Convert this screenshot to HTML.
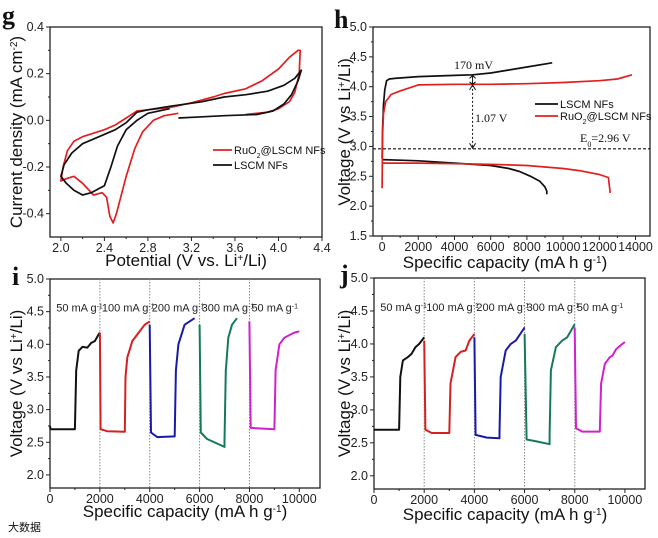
<!DOCTYPE html>
<html><head><meta charset="utf-8"><style>
html,body{margin:0;padding:0;background:#fff;}
svg{display:block;font-family:"Liberation Sans",Arial,sans-serif;}
.tk{font-size:12.5px;fill:#222;}
.ti{font-size:17px;fill:#111;}
.pl{font-family:"Liberation Serif",serif;font-weight:bold;font-size:26px;fill:#111;}
.an{font-family:"Liberation Serif",serif;font-size:12px;fill:#111;}
.lg{font-size:11px;fill:#111;}
</style></head><body>
<svg id="fig" width="658" height="538" viewBox="0 0 658 538" xmlns="http://www.w3.org/2000/svg"></svg>
<script>
// ---- Panel g data (CV) ----
const gRedE = [3.08,2.95,2.85,2.75,2.68,2.6,2.55,2.51,2.48,2.45,2.42,2.38,2.3,2.2,2.12,2.05,2.0,2.02,2.06,2.12,2.2,2.3,2.4,2.5,2.6,2.7,2.8,3.0,3.2,3.4,3.5,3.7,3.85,4.0,4.1,4.18,4.2,4.19,4.15,4.1,4.0,3.9,3.7];
const gRedI = [0.03,0.02,0.0,-0.05,-0.12,-0.24,-0.33,-0.40,-0.44,-0.41,-0.33,-0.31,-0.32,-0.27,-0.24,-0.25,-0.26,-0.2,-0.13,-0.09,-0.07,-0.055,-0.04,-0.02,0.01,0.04,0.045,0.055,0.075,0.10,0.115,0.135,0.17,0.22,0.27,0.30,0.30,0.2,0.12,0.08,0.05,0.035,0.025];
const gBlkE = [3.08,3.3,3.5,3.8,3.95,4.05,4.12,4.18,4.21,4.15,4.05,3.9,3.7,3.5,3.3,3.0,2.8,2.7,2.6,2.5,2.35,2.2,2.1,2.03,2.0,2.05,2.12,2.2,2.28,2.36,2.4,2.46,2.52,2.6,2.7,2.8,3.0];
const gBlkI = [0.01,0.015,0.02,0.025,0.04,0.07,0.11,0.17,0.215,0.18,0.15,0.125,0.11,0.10,0.08,0.06,0.045,0.035,-0.01,-0.04,-0.07,-0.10,-0.14,-0.19,-0.24,-0.27,-0.30,-0.32,-0.31,-0.29,-0.28,-0.2,-0.11,-0.04,0.0,0.03,0.05];
const gXTicks = ["2.0","2.4","2.8","3.2","3.6","4.0","4.4"];
const gYTicks = ["-0.4","-0.2","0.0","0.2","0.4"];
// ---- Panel h data ----
const hBlkChCap = [0,30,80,150,250,400,700,2000,4000,5000,6000,7000,8000,9400];
const hBlkChV   = [2.8,3.3,3.7,3.95,4.1,4.13,4.14,4.17,4.19,4.2,4.23,4.28,4.33,4.4];
const hBlkDisCap= [0,1000,2000,4000,6000,7000,7600,8200,8700,9000,9100,9100];
const hBlkDisV  = [2.78,2.77,2.76,2.72,2.68,2.63,2.58,2.5,2.42,2.32,2.25,2.2];
const hRedChCap = [0,30,80,200,500,1000,2000,4000,6000,8000,10000,12000,13000,13800];
const hRedChV   = [2.3,3.2,3.55,3.75,3.87,3.93,4.03,4.04,4.04,4.05,4.07,4.1,4.13,4.2];
const hRedDisCap= [0,2000,4000,6000,8000,10000,11000,12000,12500,12550,12600];
const hRedDisV  = [2.72,2.72,2.71,2.70,2.68,2.63,2.59,2.53,2.48,2.35,2.22];
const hE0 = 2.96;
const hXTicks = ["0","2000","4000","6000","8000","10000","12000","14000"];
const hYTicks = ["1.5","2.0","2.5","3.0","3.5","4.0","4.5","5.0"];
// ---- Panel i data ----
const iBlkCap=[0,20,1000,1000,1050,1150,1300,1500,1650,1800,1950,2000];
const iBlkV  =[2.75,2.7,2.7,2.7,3.6,3.9,3.96,3.95,4.02,4.05,4.15,4.18];
const iRedCap=[2000,2030,2300,3000,3000,3030,3100,3300,3500,3800,4000];
const iRedV  =[4.18,2.7,2.67,2.66,2.66,3.5,3.8,4.05,4.15,4.3,4.35];
const iBluCap=[4000,4050,4300,5000,5000,5050,5150,5400,5800];
const iBluV  =[4.3,2.65,2.58,2.59,2.6,3.6,4.0,4.3,4.4];
const iTeaCap=[6000,6050,6300,7000,7000,7050,7150,7300,7500];
const iTeaV  =[4.3,2.65,2.55,2.43,2.52,3.6,4.1,4.3,4.4];
const iMagCap=[8000,8050,9000,9000,9050,9200,9400,9800,10000];
const iMagV  =[4.35,2.72,2.7,2.7,3.6,4.0,4.1,4.18,4.2];
// ---- Panel j data ----
const jBlkCap=[0,1000,1000,1050,1150,1350,1500,1650,1800,2000];
const jBlkV  =[2.7,2.7,2.7,3.5,3.75,3.8,3.85,3.95,4.0,4.1];
const jRedCap=[2000,2050,2300,3000,3000,3050,3250,3450,3650,3800,4000];
const jRedV  =[4.05,2.7,2.65,2.65,2.65,3.4,3.8,3.88,3.9,4.05,4.15];
const jBluCap=[4000,4050,4500,5000,5000,5050,5250,5450,5650,6000];
const jBluV  =[4.1,2.62,2.58,2.57,2.65,3.5,3.9,4.0,4.05,4.25];
const jTeaCap=[6000,6080,6500,7000,7000,7050,7250,7500,7700,8000];
const jTeaV  =[4.15,2.55,2.52,2.48,2.62,3.6,3.95,4.05,4.1,4.3];
const jMagCap=[8000,8050,8300,9000,9000,9050,9200,9400,9500,9650,9800,10000];
const jMagV  =[4.25,2.72,2.67,2.67,2.67,3.4,3.7,3.8,3.82,3.92,3.97,4.03];
const rateXTicks=["0","2000","4000","6000","8000","10000"];
const rateYTicks=["2.0","2.5","3.0","3.5","4.0","4.5","5.0"];
const rateLabels=["50 mA g","100 mA g","200 mA g","300 mA g","50 mA g"];
const rateLabelX=[250,2080,4080,6080,8080];
const rateBounds=[2000,4000,6000,8000];

const NS="http://www.w3.org/2000/svg";
const svg=document.getElementById('fig');
function el(tag,attrs,parent){const e=document.createElementNS(NS,tag);for(const k in attrs)e.setAttribute(k,attrs[k]);(parent||svg).appendChild(e);return e;}
function txt(x,y,s,cls,parent,extra){const t=el('text',Object.assign({x:x,y:y,class:cls},extra||{}),parent);t.textContent=s;return t;}

function axes(g,L,T,R,B,xmin,xmax,ymin,ymax,xt,yt,xMinor,yMinor){
  const sx=v=>L+(v-xmin)/(xmax-xmin)*(R-L);
  const sy=v=>B-(v-ymin)/(ymax-ymin)*(B-T);
  const f=el('rect',{x:L,y:T,width:R-L,height:B-T,fill:'none',stroke:'#222','stroke-width':1.3},g);
  
  
  xt.forEach(s=>{const v=parseFloat(s);const x=sx(v);
    el('line',{x1:x,y1:B,x2:x,y2:B+4,stroke:'#222'},g);
    const t=txt(x,B+15,s,'tk',g,{'text-anchor':'middle'});
    
    });
  yt.forEach(s=>{const v=parseFloat(s);const y=sy(v);
    el('line',{x1:L,y1:y,x2:L-4,y2:y,stroke:'#222'},g);
    const t=txt(L-6,y+4,s,'tk',g,{'text-anchor':'end'});
    
    });
  if(xMinor){for(let i=0;i<xt.length-1;i++){const a=parseFloat(xt[i]),b=parseFloat(xt[i+1]);const x=sx((a+b)/2);el('line',{x1:x,y1:B,x2:x,y2:B+2,stroke:'#222'},g);}}
  if(yMinor){for(let i=0;i<yt.length-1;i++){const a=parseFloat(yt[i]),b=parseFloat(yt[i+1]);const y=sy((a+b)/2);el('line',{x1:L,y1:y,x2:L-2,y2:y,stroke:'#222'},g);}}
  return [sx,sy];
}
function line(g,sx,sy,xs,ys,color,w,name){
  const d=xs.map((x,i)=>(i?'L':'M')+sx(x).toFixed(1)+','+sy(ys[i]).toFixed(1)).join('');
  const p=el('path',{d:d,fill:'none',stroke:color,'stroke-width':w||1.6,'stroke-linejoin':'round'},g);
  
  
  return p;
}
function group(name){const g=el('g',{});return g;}
function ylab(g,x,y,parts){const t=el('text',{x:0,y:0,class:'ti','text-anchor':'middle',transform:`translate(${x},${y}) rotate(-90)`},g);parts.forEach(p=>{const s=el('tspan',p[1]?{'font-size':'10px','baseline-shift':'super'}:{},t);s.textContent=p[0];});}
function xlab(g,x,y,parts){const t=el('text',{x:x,y:y,class:'ti','text-anchor':'middle'},g);parts.forEach(p=>{const s=el('tspan',p[1]?{'font-size':'10px','baseline-shift':'super'}:{},t);s.textContent=p[0];});}
const RED='#e02020',BLK='#111';

// ===== Panel g =====
(function(){
  const g=group('panel-g');
  const [sx,sy]=axes(g,50,27,322,237,1.9,4.4,-0.5,0.4,gXTicks,gYTicks,true,true);
  line(g,sx,sy,gRedE,gRedI,RED,1.7,'series-ruo2-lscm');
  line(g,sx,sy,gBlkE,gBlkI,BLK,1.7,'series-lscm');
  const pl=txt(2,24,'g','pl',g);
  ylab(g,22,132,[['Current density (mA cm'],['-2',1],[')']]);
  xlab(g,186,266,[['Potential (V vs. Li'],['+',1],['/Li)']]);
  el('line',{x1:213,y1:150,x2:232,y2:150,stroke:RED,'stroke-width':1.8},g);
  const a=el('text',{x:234,y:154,class:'lg'},g);
  let s=el('tspan',{},a);s.textContent='RuO';s=el('tspan',{'font-size':'7px','baseline-shift':'sub'},a);s.textContent='2';s=el('tspan',{},a);s.textContent='@LSCM NFs';
  el('line',{x1:213,y1:165,x2:232,y2:165,stroke:BLK,'stroke-width':1.8},g);
  const b=txt(234,169,'LSCM NFs','lg',g);
})();

// ===== Panel h =====
(function(){
  const g=group('panel-h');
  const [sx,sy]=axes(g,373,27,650,236,-500,14800,1.5,5.0,hXTicks,hYTicks,true,true);
  line(g,sx,sy,hBlkChCap,hBlkChV,BLK,1.7,'lscm-charge');
  line(g,sx,sy,hBlkDisCap,hBlkDisV,BLK,1.7,'lscm-discharge');
  line(g,sx,sy,hRedChCap,hRedChV,RED,1.7,'ruo2-charge');
  line(g,sx,sy,hRedDisCap,hRedDisV,RED,1.7,'ruo2-discharge');
  const e0=el('line',{x1:373,x2:650,y1:sy(hE0),y2:sy(hE0),stroke:'#111','stroke-dasharray':'3,2','stroke-width':1.2},g);
  
  const ax=sx(5000);
  el('line',{x1:ax,x2:ax,y1:sy(4.03),y2:sy(2.97),stroke:'#111','stroke-dasharray':'2,2'},g);
  el('path',{d:`M${ax-3},${sy(2.97)-5}L${ax},${sy(2.97)}L${ax+3},${sy(2.97)-5}M${ax-3},${sy(4.03)+5}L${ax},${sy(4.03)}L${ax+3},${sy(4.03)+5}`,fill:'none',stroke:'#111'},g);
  el('path',{d:`M${ax-3},${sy(4.08)}L${ax},${sy(4.04)}L${ax+3},${sy(4.08)}M${ax-3},${sy(4.14)}L${ax},${sy(4.19)}L${ax+3},${sy(4.14)}M${ax},${sy(4.04)}L${ax},${sy(4.19)}`,fill:'none',stroke:'#111'},g);
  txt(454,69,'170 mV','an',g);
  txt(475,122,'1.07 V','an',g);
  const e=el('text',{x:580,y:142,class:'an'},g);
  let s=el('tspan',{},e);s.textContent='E';s=el('tspan',{'font-size':'8px','baseline-shift':'sub'},e);s.textContent='0';s=el('tspan',{},e);s.textContent='=2.96 V';
  const pl=txt(334,28,'h','pl',g);
  ylab(g,350,132,[['Voltage (V vs Li'],['+',1],['/Li)']]);
  xlab(g,505,268,[['Specific capacity (mA h g'],['-1',1],[')']]);
  el('line',{x1:535,y1:104,x2:558,y2:104,stroke:BLK,'stroke-width':1.8},g);
  const a=txt(560,108,'LSCM NFs','lg',g);
  el('line',{x1:535,y1:116,x2:558,y2:116,stroke:RED,'stroke-width':1.8},g);
  const b=el('text',{x:560,y:120,class:'lg'},g);
  s=el('tspan',{},b);s.textContent='RuO';s=el('tspan',{'font-size':'7px','baseline-shift':'sub'},b);s.textContent='2';s=el('tspan',{},b);s.textContent='@LSCM NFs';
})();

// ===== Rate panels =====
function ratePanel(name,L,T,R,B,xmax,letter,lx,ly,titleX,titleY,ylx,series){
  const g=group(name);
  const [sx,sy]=axes(g,L,T,R,B,0,xmax,1.8,5.0,rateXTicks,rateYTicks,true,true);
  rateBounds.forEach(v=>{const l=el('line',{x1:sx(v),x2:sx(v),y1:T,y2:B,stroke:'#888','stroke-dasharray':'1.5,1.5'},g);});
  rateLabels.forEach((s,i)=>{const t=el('text',{x:sx(rateLabelX[i]),y:sy(4.5),'font-size':'11px',fill:'#222'},g);
    let a=el('tspan',{},t);a.textContent=s;a=el('tspan',{'font-size':'7px','baseline-shift':'super'},t);a.textContent='-1';
    });
  series.forEach(s=>line(g,sx,sy,s[0],s[1],s[2],2,s[3]));
  const pl=txt(lx,ly,letter,'pl',g);
  ylab(g,ylx,(T+B)/2,[['Voltage (V vs Li'],['+',1],['/Li)']]);
  xlab(g,titleX,titleY,[['Specific capacity (mA h g'],['-1',1],[')']]);
}
const C=['#111','#d42020','#1a1aa8','#137a5e','#d020d0'];
ratePanel('panel-i',50,279,320,488,10830,'i',12,285,185,517,22,[
 [iBlkCap,iBlkV,C[0],'cycle-50-black'],[iRedCap,iRedV,C[1],'cycle-100-red'],[iBluCap,iBluV,C[2],'cycle-200-blue'],[iTeaCap,iTeaV,C[3],'cycle-300-teal'],[iMagCap,iMagV,C[4],'cycle-50-magenta']]);
ratePanel('panel-j',374,278,645,489,10800,'j',340,283,505,520,350,[
 [jBlkCap,jBlkV,C[0],'cycle-50-black'],[jRedCap,jRedV,C[1],'cycle-100-red'],[jBluCap,jBluV,C[2],'cycle-200-blue'],[jTeaCap,jTeaV,C[3],'cycle-300-teal'],[jMagCap,jMagV,C[4],'cycle-50-magenta']]);
const wm=txt(8,531,'大数据','lg',svg,{fill:'#ccc','font-family':'"Noto Sans CJK SC",sans-serif'});


</script>
</body></html>
